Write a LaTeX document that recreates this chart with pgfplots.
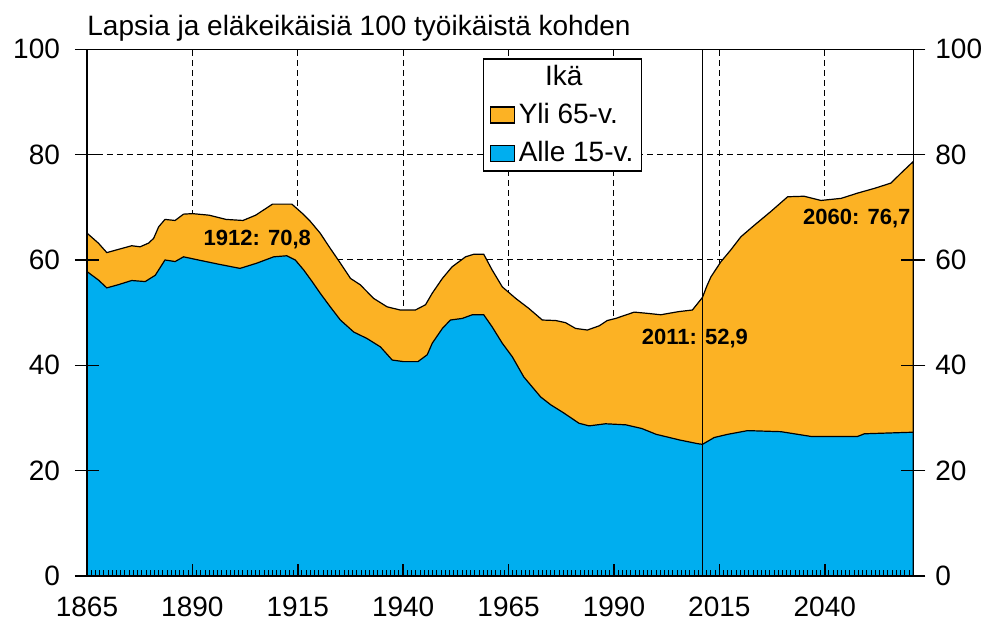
\documentclass[border=0pt]{standalone}
\usepackage{pgfplots}
\pgfplotsset{compat=1.18}
\usepackage{fontspec}
\setmainfont{Liberation Sans}

\definecolor{yliorange}{RGB}{252,178,36}
\definecolor{alleblue}{RGB}{0,174,239}

% total (alle 15 + yli 65) per 100 of working age
\pgfplotstableread{
year total
1865 65.1
1867.7 63.2
1869.7 61.4
1872.4 62.0
1875.6 62.7
1877.6 62.5
1879.6 63.2
1880.8 64.1
1882 66.3
1883.5 67.7
1885.9 67.5
1887.9 68.7
1890 68.8
1894 68.5
1898 67.7
1902 67.5
1905 68.5
1909 70.6
1913.6 70.6
1916 68.9
1918 67.3
1920.3 65.1
1922.7 62.2
1925.1 59.4
1927.5 56.5
1929.8 55.3
1933 52.7
1936.2 51.1
1939.3 50.5
1942.9 50.5
1945.3 51.5
1946.9 53.7
1949.3 56.5
1951.6 58.7
1954.8 60.6
1956.8 61.1
1959.1 61.1
1961.1 58.1
1963.5 54.9
1966.7 52.7
1969.8 50.8
1973 48.6
1976.2 48.5
1978.5 48.1
1980.9 47.0
1983.7 46.7
1986.5 47.5
1988.4 48.5
1990.4 48.9
1994.8 50.1
1997.5 49.9
2001.1 49.6
2005.4 50.2
2008.6 50.5
2010.2 52.1
2011 52.9
2012 55.0
2013 56.8
2015.4 59.7
2017.7 61.9
2020.1 64.4
2023.3 66.6
2027.2 69.2
2031.2 72.0
2035.1 72.1
2039.1 71.3
2043.9 71.7
2047.8 72.7
2051.8 73.6
2055.7 74.6
2058.1 76.5
2061 78.7
}\totaltable

\pgfplotstableread{
year alle
1865 57.8
1867.7 56.2
1869.7 54.7
1872.4 55.3
1875.6 56.1
1878.8 55.9
1881.2 57.1
1883.5 60.0
1885.9 59.7
1887.9 60.6
1891.4 60.0
1896.2 59.2
1901.3 58.4
1905.3 59.4
1909.3 60.6
1912.4 60.8
1914.4 60.0
1916.4 58.1
1918.4 55.9
1920.3 53.7
1922.7 51.1
1925.1 48.6
1928.3 46.3
1931.4 45.1
1934.6 43.5
1937.4 41.0
1940.1 40.7
1943.5 40.7
1945.7 42.0
1946.9 44.2
1949.3 47.0
1951.2 48.6
1954 48.9
1956.4 49.6
1959.1 49.6
1961.1 47.3
1963.5 44.2
1965.9 41.6
1968.6 37.8
1972.6 34.0
1975 32.5
1978 31.0
1981.7 29.0
1984.1 28.5
1988 28.9
1992.8 28.7
1996.6 28.0
2000 26.9
2005.7 25.8
2010 25.1
2011 25.0
2013.8 26.3
2017 26.9
2021.7 27.6
2029.6 27.4
2036.7 26.5
2047.8 26.5
2049.4 27.0
2061 27.3
}\alletable

\pgfplotsset{
  base/.style={
    scale only axis, width=413.15pt, height=263.35pt,
    xmin=1865, xmax=2061, ymin=0, ymax=100,
    xtick={1865,1890,...,2040}, ytick={0,20,...,100},
    xtick pos=left, ytick pos=both,
    axis line style={line width=0.75pt},
    tick style={line width=0.75pt, black},
    major tick length=6pt,
    ticklabel style={font=\fontsize{14}{16}\selectfont},
    /pgf/number format/assume math mode=true,
    /pgf/number format/1000 sep={},
  },
}

\begin{document}
\begin{tikzpicture}
\begin{axis}[base,
  clip mode=individual,
  tick align=outside,
  major x tick style={draw=none},
  yticklabel pos=left,
  yticklabel style={xshift=-4pt},
  xticklabel style={yshift=-1pt},
  grid=major,
  grid style={black, dash pattern=on 3pt off 2pt, line width=0.5pt},
  legend cell align=left,
  legend style={at={(0.479,0.983)}, anchor=north west, draw=black, line width=0.75pt,
    font=\fontsize{14}{16}\selectfont, inner xsep=3pt, inner ysep=2pt,
    row sep=5.5pt, column sep=1pt, nodes={inner sep=1pt}},
  legend image code/.code={\draw[#1, line width=0.6pt] (0pt,-4pt) rectangle (12pt,4pt);},
]
\addlegendimage{empty legend}
\addlegendentry{\makebox[45pt]{Ikä}}

\addplot[fill=yliorange, draw=black, line width=0.6pt] table[x=year, y=total] {\totaltable} \closedcycle;
\addlegendentry{Yli 65-v.}

\addplot[fill=alleblue, draw=black, line width=0.6pt] table[x=year, y=alle] {\alletable} \closedcycle;
\addlegendentry{Alle 15-v.}

\addplot[black, line width=0.75pt, forget plot] coordinates {(2011,0) (2011,100)};

\node[font=\bfseries\fontsize{11}{13}\selectfont] at (axis cs:1905.4,63.8) {1912: 70,8};
\node[font=\bfseries\fontsize{11}{13}\selectfont] at (axis cs:2009.2,45.0) {2011: 52,9};
\node[font=\bfseries\fontsize{11}{13}\selectfont] at (axis cs:2047.6,67.8) {2060: 76,7};

\node[anchor=base west, inner sep=0pt, font=\fontsize{14}{16}\selectfont]
  at ([yshift=6.7pt]rel axis cs:0,1) {Lapsia ja eläkeikäisiä 100 työikäistä kohden};
\end{axis}

\begin{axis}[base,
  tick align=inside,
  minor xtick={1866,...,2060},
  minor tick length=3pt,
  minor tick style={line width=0.5pt},
  yticklabel pos=right,
  yticklabel style={xshift=7.5pt},
  xticklabels={},
]
\addplot[draw=none, forget plot] coordinates {(1865,0)};
\end{axis}

\pgfresetboundingbox
\path[use as bounding box] (-43.5pt,-24.5pt) rectangle (449.5pt,288pt);
\end{tikzpicture}
\end{document}
